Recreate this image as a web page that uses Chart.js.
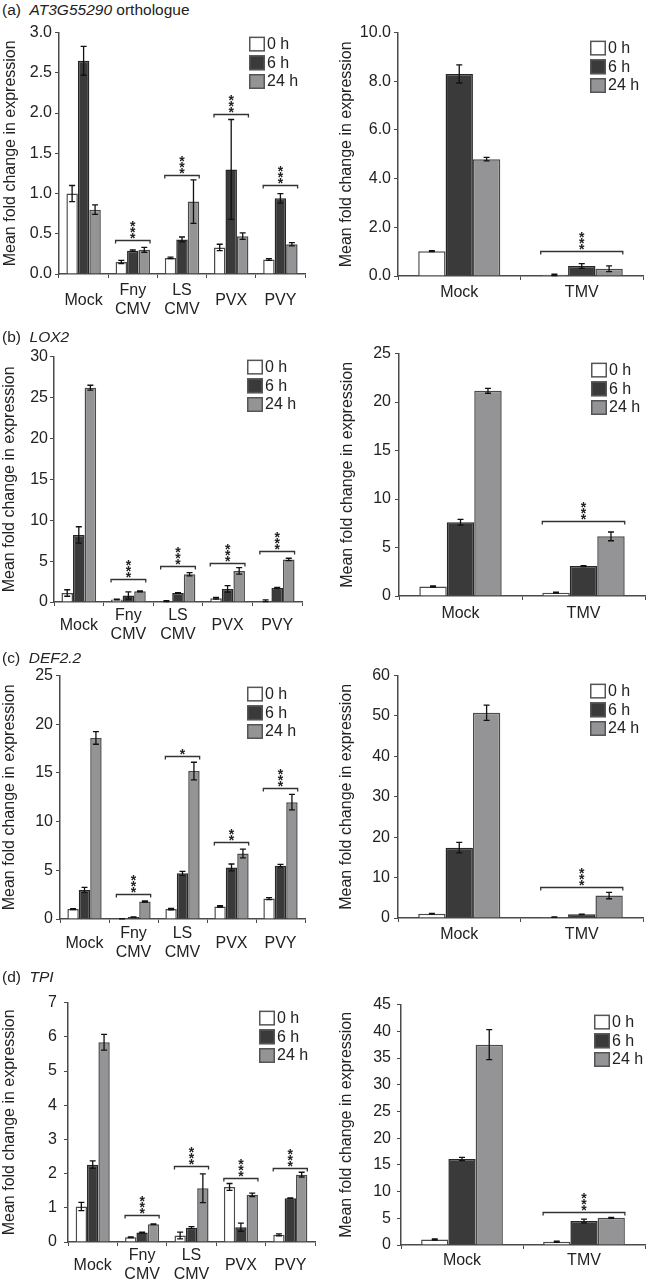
<!DOCTYPE html>
<html>
<head>
<meta charset="utf-8">
<script src="https://cdn.jsdelivr.net/npm/chart.js@4/dist/chart.umd.min.js"></script>
<style>
  html,body{margin:0;padding:0;background:#fff;}
  body{position:relative;width:648px;height:1285px;overflow:hidden;font-family:'Liberation Sans',Arial,Helvetica,sans-serif;color:#222;}
  .ttl{position:absolute;left:2px;font-size:15.5px;line-height:20px;white-space:pre;z-index:2;}
  canvas{position:absolute;}
</style>
</head>
<body>
<div class="ttl" style="top:0px">(a)  <i>AT3G55290</i> orthologue</div>
<div class="ttl" style="top:327px">(b)  <i>LOX2</i></div>
<div class="ttl" style="top:648px">(c)  <i>DEF2.2</i></div>
<div class="ttl" style="top:967px">(d)  <i>TPI</i></div>
<script>
// ---------- shared labels ----------
const SERIES = ['0 h', '6 h', '24 h'];
const VIRUS_CATS = ['Mock', ['Fny', 'CMV'], ['LS', 'CMV'], 'PVX', 'PVY'];
const TMV_CATS = ['Mock', 'TMV'];
const Y_TITLE = 'Mean fold change in expression';

// ---------- (a) AT3G55290 orthologue ----------
const aVir0h  = [1.00, 0.15, 0.20, 0.33, 0.18];
const aVir6h  = [2.65, 0.29, 0.43, 1.30, 0.94];
const aVir24h = [0.80, 0.30, 0.90, 0.47, 0.37];
const aVirErr0h  = [0.10, 0.02, 0.01, 0.04, 0.01];
const aVirErr6h  = [0.18, 0.01, 0.03, 0.62, 0.06];
const aVirErr24h = [0.06, 0.03, 0.27, 0.04, 0.02];
const aVirSig = [null, '***', '***', '***', '***'];
const aVirBracket = [null, 0.42, 1.23, 1.99, 1.11];

const aTmv0h  = [1.02, 0.05];
const aTmv6h  = [8.30, 0.41];
const aTmv24h = [4.80, 0.30];
const aTmvErr0h  = [0.02, 0.03];
const aTmvErr6h  = [0.37, 0.10];
const aTmvErr24h = [0.07, 0.12];
const aTmvSig = [null, '***'];
const aTmvBracket = [null, 1.02];

// ---------- (b) LOX2 ----------
const bVir0h  = [1.1, 0.3, 0.1, 0.45, 0.15];
const bVir6h  = [8.2, 0.8, 1.1, 1.6, 1.7];
const bVir24h = [26.2, 1.3, 3.4, 3.8, 5.2];
const bVirErr0h  = [0.4, 0.05, 0.05, 0.1, 0.1];
const bVirErr6h  = [1.0, 0.45, 0.05, 0.4, 0.1];
const bVirErr24h = [0.3, 0.05, 0.2, 0.4, 0.15];
const bVirSig = [null, '***', '***', '***', '***'];
const bVirBracket = [null, 2.8, 4.35, 4.8, 6.2];

const bTmv0h  = [0.98, 0.34];
const bTmv6h  = [7.6, 3.09];
const bTmv24h = [21.16, 6.15];
const bTmvErr0h  = [0.05, 0.05];
const bTmvErr6h  = [0.3, 0.05];
const bTmvErr24h = [0.25, 0.45];
const bTmvSig = [null, '***'];
const bTmvBracket = [null, 7.74];

// ---------- (c) DEF2.2 ----------
const cVir0h  = [1.02, 0.02, 1.02, 1.29, 2.1];
const cVir6h  = [2.99, 0.2, 4.69, 5.3, 5.47];
const cVir24h = [18.6, 1.8, 15.2, 6.73, 12.0];
const cVirErr0h  = [0.05, 0.01, 0.07, 0.07, 0.1];
const cVirErr6h  = [0.25, 0.02, 0.2, 0.35, 0.15];
const cVirErr24h = [0.65, 0.07, 0.9, 0.45, 0.8];
const cVirSig = [null, '***', '*', '**', '***'];
const cVirBracket = [null, 2.58, 16.7, 7.9, 13.5];

const cTmv0h  = [1.06, 0.2];
const cTmv6h  = [17.4, 0.9];
const cTmv24h = [50.8, 5.56];
const cTmvErr0h  = [0.1, 0.05];
const cTmvErr6h  = [1.3, 0.05];
const cTmvErr24h = [1.9, 0.8];
const cTmvSig = [null, '***'];
const cTmvBracket = [null, 7.7];

// ---------- (d) TPI ----------
const dVir0h  = [1.04, 0.14, 0.19, 1.61, 0.21];
const dVir6h  = [2.26, 0.28, 0.42, 0.43, 1.28];
const dVir24h = [5.84, 0.52, 1.57, 1.38, 1.97];
const dVirErr0h  = [0.12, 0.01, 0.1, 0.1, 0.03];
const dVirErr6h  = [0.11, 0.01, 0.03, 0.12, 0.01];
const dVirErr24h = [0.23, 0.01, 0.42, 0.05, 0.07];
const dVirSig = [null, '***', '***', '***', '***'];
const dVirBracket = [null, 0.8, 2.22, 1.87, 2.17];

const dTmv0h  = [1.04, 0.6];
const dTmv6h  = [16.1, 4.5];
const dTmv24h = [37.5, 5.08];
const dTmvErr0h  = [0.1, 0.1];
const dTmvErr6h  = [0.3, 0.35];
const dTmvErr24h = [2.8, 0.1];
const dTmvSig = [null, '***'];
const dTmvBracket = [null, 6.25];

// ---------- axis ranges ----------
const aVirY = {max: 3, step: 0.5, dec: 1};
const aTmvY = {max: 10, step: 2, dec: 1};
const bVirY = {max: 30, step: 5, dec: 0};
const bTmvY = {max: 25, step: 5, dec: 0};
const cVirY = {max: 25, step: 5, dec: 0};
const cTmvY = {max: 60, step: 10, dec: 0};
const dVirY = {max: 7, step: 1, dec: 0};
const dTmvY = {max: 45, step: 5, dec: 0};

// ---------- styles ----------
const FILLS = ['#ffffff', '#3a3a3a', '#949496'];
const EDGES = ['#4a4a4a', '#262626', '#4a4a4a'];
const AXIS = '#4a4a4a';
const TXT = '#222222';
const FONT = "'Liberation Sans', Arial, Helvetica, sans-serif";

// ---------- layout of the eight panels ----------
const panels = [
  {cats: VIRUS_CATS, vals: [aVir0h, aVir6h, aVir24h], errs: [aVirErr0h, aVirErr6h, aVirErr24h], sig: aVirSig, br: aVirBracket, y: aVirY,
   box: {x: 0, y: 20, w: 325, h: 300}, area: {l: 59, t: 31, r: 305, b: 274}, titleCx: 11, tickPad: 3, xPad: 12.5, leg: {dx: 56, dy: 4}, pct: 0.70},
  {cats: TMV_CATS, vals: [aTmv0h, aTmv6h, aTmv24h], errs: [aTmvErr0h, aTmvErr6h, aTmvErr24h], sig: aTmvSig, br: aTmvBracket, y: aTmvY,
   box: {x: 330, y: 20, w: 318, h: 300}, area: {l: 398, t: 32, r: 643, b: 276}, titleCx: 347, tickPad: 3, xPad: 12.5, leg: {dx: 53, dy: 8}, pct: 0.67},
  {cats: VIRUS_CATS, vals: [bVir0h, bVir6h, bVir24h], errs: [bVirErr0h, bVirErr6h, bVirErr24h], sig: bVirSig, br: bVirBracket, y: bVirY,
   box: {x: 0, y: 345, w: 325, h: 295}, area: {l: 54, t: 356, r: 302, b: 602}, titleCx: 10, tickPad: 2, xPad: 9.5, leg: {dx: 55, dy: 3}, pct: 0.70},
  {cats: TMV_CATS, vals: [bTmv0h, bTmv6h, bTmv24h], errs: [bTmvErr0h, bTmvErr6h, bTmvErr24h], sig: bTmvSig, br: bTmvBracket, y: bTmvY,
   box: {x: 330, y: 340, w: 318, h: 295}, area: {l: 399, t: 351, r: 645, b: 596}, titleCx: 348, tickPad: 4, xPad: 13.5, leg: {dx: 54, dy: 9}, pct: 0.67},
  {cats: VIRUS_CATS, vals: [cVir0h, cVir6h, cVir24h], errs: [cVirErr0h, cVirErr6h, cVirErr24h], sig: cVirSig, br: cVirBracket, y: cVirY,
   box: {x: 0, y: 663, w: 325, h: 300}, area: {l: 60, t: 674, r: 305, b: 919}, titleCx: 10, tickPad: 3, xPad: 10.5, leg: {dx: 58, dy: 11}, pct: 0.70},
  {cats: TMV_CATS, vals: [cTmv0h, cTmv6h, cTmv24h], errs: [cTmvErr0h, cTmvErr6h, cTmvErr24h], sig: cTmvSig, br: cTmvBracket, y: cTmvY,
   box: {x: 330, y: 662, w: 318, h: 295}, area: {l: 398, t: 673, r: 643, b: 918}, titleCx: 347, tickPad: 4, xPad: 12.5, leg: {dx: 53, dy: 8}, pct: 0.67},
  {cats: VIRUS_CATS, vals: [dVir0h, dVir6h, dVir24h], errs: [dVirErr0h, dVirErr6h, dVirErr24h], sig: dVirSig, br: dVirBracket, y: dVirY,
   box: {x: 0, y: 986, w: 325, h: 299}, area: {l: 68, t: 997, r: 315, b: 1242}, titleCx: 10, tickPad: 7, xPad: 9.5, leg: {dx: 56, dy: 8}, pct: 0.69},
  {cats: TMV_CATS, vals: [dTmv0h, dTmv6h, dTmv24h], errs: [dTmvErr0h, dTmvErr6h, dTmvErr24h], sig: dTmvSig, br: dTmvBracket, y: dTmvY,
   box: {x: 330, y: 989, w: 318, h: 296}, area: {l: 401, t: 1000, r: 645, b: 1245}, titleCx: 347, tickPad: 6, xPad: 11.5, leg: {dx: 51, dy: 10}, pct: 0.67}
];

function makeExtras(p) {
  return {
    id: 'extras',
    afterDatasetsDraw(chart) {
      const ctx = chart.ctx, ys = chart.scales.y, ca = chart.chartArea;
      ctx.save();
      // error bars
      p.errs.forEach((errs, di) => {
        const meta = chart.getDatasetMeta(di);
        meta.data.forEach((bar, j) => {
          const v = p.vals[di][j], e = errs[j];
          if (!e) return;
          const top = ys.getPixelForValue(v + e);
          const bot = ys.getPixelForValue(Math.max(0, v - e));
          ctx.strokeStyle = '#111';
          ctx.lineWidth = 1.3;
          ctx.beginPath();
          ctx.moveTo(bar.x, top); ctx.lineTo(bar.x, bot);
          ctx.moveTo(bar.x - 3, top); ctx.lineTo(bar.x + 3, top);
          ctx.moveTo(bar.x - 3, bot); ctx.lineTo(bar.x + 3, bot);
          ctx.stroke();
        });
      });
      // significance brackets
      const m0 = chart.getDatasetMeta(0), m2 = chart.getDatasetMeta(2);
      p.br.forEach((bv, j) => {
        if (bv == null) return;
        const b0 = m0.data[j], b2 = m2.data[j];
        const x1 = b0.x - b0.width / 2, x2 = b2.x + b2.width / 2;
        const yy = Math.round(ys.getPixelForValue(bv)) + 0.5;
        ctx.strokeStyle = '#333';
        ctx.lineWidth = 1.3;
        ctx.beginPath();
        ctx.moveTo(x1, yy + 3); ctx.lineTo(x1, yy); ctx.lineTo(x2, yy); ctx.lineTo(x2, yy + 3);
        ctx.stroke();
        const s = p.sig[j] || '';
        ctx.fillStyle = '#222';
        ctx.font = 'bold 14px ' + FONT;
        ctx.textAlign = 'center';
        ctx.textBaseline = 'alphabetic';
        const cx = (x1 + x2) / 2;
        for (let k = 0; k < s.length; k++) {
          const cy = yy - 6 - k * 6;
          ctx.fillText('*', cx, cy + 8);
        }
      });
      // legend
      const lx = ca.right - p.leg.dx, ly = ca.top + p.leg.dy;
      SERIES.forEach((name, i) => {
        const by = ly + i * 18.7;
        ctx.fillStyle = FILLS[i];
        ctx.fillRect(lx, by, 16, 15);
        ctx.strokeStyle = '#555';
        ctx.lineWidth = 1.5;
        ctx.strokeRect(lx + 0.75, by + 0.75, 14.5, 13.5);
        ctx.fillStyle = TXT;
        ctx.font = '16px ' + FONT;
        ctx.textAlign = 'left';
        ctx.textBaseline = 'middle';
        ctx.fillText(name, lx + 18, by + 8);
      });
      ctx.restore();
    }
  };
}

panels.forEach(p => {
  const c = document.createElement('canvas');
  c.width = p.box.w; c.height = p.box.h;
  c.style.left = p.box.x + 'px'; c.style.top = p.box.y + 'px';
  c.style.width = p.box.w + 'px'; c.style.height = p.box.h + 'px';
  document.body.appendChild(c);
  const yW = p.area.l - p.box.x;
  const xH = p.box.y + p.box.h - p.area.b;
  const tFont = {family: FONT, size: 16};
  new Chart(c, {
    type: 'bar',
    data: {
      labels: p.cats,
      datasets: SERIES.map((s, i) => ({
        label: s, data: p.vals[i],
        backgroundColor: FILLS[i], borderColor: EDGES[i], borderWidth: 1.5,
        categoryPercentage: p.pct, barPercentage: 1.0
      }))
    },
    options: {
      responsive: false, animation: false, devicePixelRatio: 1,
      layout: {padding: {left: 0, top: p.area.t - p.box.y, right: p.box.x + p.box.w - p.area.r, bottom: 0}},
      plugins: {legend: {display: false}, tooltip: {enabled: false}},
      scales: {
        x: {
          grid: {offset: true, drawOnChartArea: false, drawTicks: true, tickLength: 4, color: AXIS, lineWidth: 1},
          border: {color: AXIS, width: 1.5},
          ticks: {font: tFont, color: TXT, padding: p.xPad, crossAlign: 'center', maxRotation: 0, autoSkip: false},
          afterFit: s => { s.height = xH; }
        },
        y: {
          min: 0, max: p.y.max,
          grid: {drawOnChartArea: false, drawTicks: true, tickLength: 4, color: AXIS, lineWidth: 1},
          border: {color: AXIS, width: 1.5},
          ticks: {stepSize: p.y.step, font: tFont, color: TXT, padding: p.tickPad,
                  callback: v => Number(v).toFixed(p.y.dec)},
          title: {display: true, text: Y_TITLE, font: tFont, color: TXT,
                  padding: {top: Math.max(0, p.titleCx - p.box.x - 9.6), bottom: 0}},
          afterFit: s => { s.width = yW; }
        }
      }
    },
    plugins: [makeExtras(p)]
  });
});
</script>
</body>
</html>
